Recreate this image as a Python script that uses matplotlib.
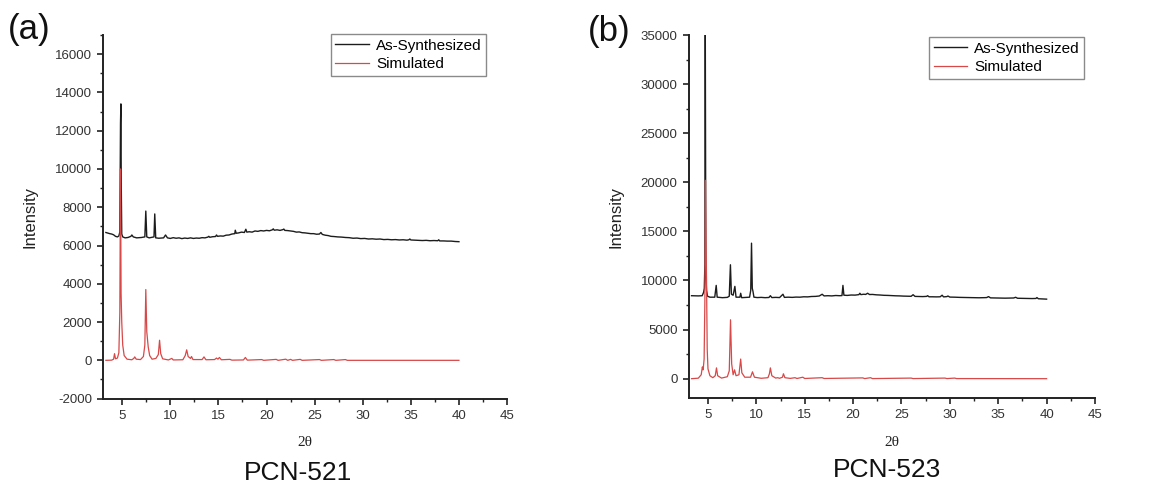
import matplotlib
matplotlib.use("Agg")
import matplotlib.pyplot as plt
from matplotlib.ticker import MultipleLocator

plt.rcParams['font.family'] = ['Liberation Sans', 'DejaVu Sans']
plt.rcParams['axes.unicode_minus'] = False

# ---------------- PCN-521 ----------------
a_syn_x = [3.3, 3.5, 3.7, 3.9, 4.1, 4.3, 4.5, 4.65, 4.75, 4.82, 4.86, 4.9, 4.95, 5.05,
           5.3, 5.6, 5.9, 6.0, 6.15, 6.5, 7.0, 7.35, 7.45, 7.55, 7.8, 8.1, 8.3, 8.38,
           8.48, 8.8, 9.3, 9.5, 9.7, 10.0, 10.3, 10.6, 10.9, 11.2, 11.5, 11.8, 12.1,
           12.4, 12.7, 13.0, 13.3, 13.6, 13.9, 14.0, 14.1, 14.4, 14.7, 14.8, 14.9, 15.2,
           15.5, 15.8, 16.1, 16.4, 16.7, 16.75, 16.85, 17.1, 17.4, 17.7, 17.85, 17.95,
           18.2, 18.5, 18.8, 19.1, 19.4, 19.7, 20.0, 20.3, 20.6, 20.7, 20.8, 21.1, 21.4,
           21.7, 21.8, 21.9, 22.2, 22.5, 22.8, 23.1, 23.4, 23.7, 24.0, 24.3, 24.6, 24.9,
           25.2, 25.5, 25.65, 25.8, 26.1, 26.4, 26.7, 27.0, 27.4, 27.8, 28.2, 28.6, 29.0,
           29.4, 29.8, 30.2, 30.6, 31.0, 31.4, 31.8, 32.2, 32.6, 33.0, 33.4, 33.8, 34.2,
           34.6, 34.8, 34.9, 35.0, 35.4, 35.8, 36.2, 36.6, 37.0, 37.4, 37.8, 37.9, 38.0,
           38.4, 38.8, 39.2, 39.6, 40.0]
a_syn_y = [6680, 6650, 6620, 6600, 6560, 6480, 6450, 6500, 6700, 12400, 13400, 9000, 6600, 6450,
           6400, 6420, 6480, 6550, 6450, 6400, 6420, 6450, 7800, 6450, 6400, 6430, 6450, 7650,
           6400, 6380, 6400, 6550, 6400, 6370, 6410, 6380, 6400, 6360, 6390, 6370, 6400,
           6370, 6390, 6380, 6410, 6400, 6440, 6480, 6430, 6460, 6470, 6550, 6480, 6500,
           6490, 6540, 6550, 6600, 6620, 6800, 6640, 6660, 6700, 6680, 6850, 6700,
           6720, 6700, 6760, 6740, 6780, 6760, 6790, 6770, 6820, 6870, 6800, 6820, 6790,
           6830, 6860, 6790, 6780, 6760, 6740, 6700, 6710, 6670, 6660, 6640, 6620, 6620,
           6590, 6600, 6680, 6580, 6540, 6520, 6480, 6470, 6450, 6440, 6420, 6410, 6380,
           6390, 6360, 6370, 6340, 6350, 6330, 6340, 6310, 6320, 6300, 6310, 6290, 6300,
           6280, 6300, 6340, 6290, 6280, 6270, 6260, 6270, 6250, 6260, 6250, 6300, 6240,
           6240, 6230, 6230, 6210, 6200]

a_sim_x = [3.3, 3.9, 4.1, 4.2, 4.3, 4.5, 4.65, 4.75, 4.82, 4.88, 4.95, 5.05, 5.2, 5.5,
           6.0, 6.2, 6.3, 6.45, 6.9, 7.2, 7.35, 7.45, 7.55, 7.7, 7.85, 8.1, 8.5, 8.75,
           8.88, 9.0, 9.2, 9.8, 10.15, 10.3, 11.3, 11.55, 11.7, 11.85, 12.1, 12.2, 12.35,
           13.3, 13.5, 13.7, 14.6, 14.8, 14.95, 15.1, 15.3, 16.2, 16.4, 17.6, 17.8, 18.0,
           19.5, 19.7, 21.0, 21.2, 22.0, 22.2, 22.5, 22.7, 23.5, 23.7, 25.5, 25.7, 27.0,
           27.2, 28.2, 28.4, 40.0]
a_sim_y = [0, 10, 60, 350, 80, 120, 400, 2500, 10000, 3500, 2000, 800, 250, 60,
           30, 100, 180, 60, 40, 200, 800, 3700, 1500, 700, 250, 60, 100, 300,
           1050, 350, 80, 20, 100, 20, 30, 250, 550, 200, 100, 200, 40,
           40, 180, 30, 40, 120, 60, 150, 30, 50, 10, 20, 150, 10,
           40, 0, 50, 0, 60, 0, 50, 0, 50, 0, 40, 0, 40,
           0, 40, 0, 0]

# ---------------- PCN-523 ----------------
b_syn_x = [3.3, 4.0, 4.4, 4.55, 4.62, 4.68, 4.72, 4.78, 4.85, 4.95, 5.2, 5.7, 5.85, 5.95,
           6.5, 7.0, 7.2, 7.32, 7.42, 7.6, 7.78, 7.9, 8.3, 8.38, 8.48, 9.3, 9.42, 9.5,
           9.58, 9.65, 9.75, 10.1, 10.5, 10.9, 11.3, 11.45, 11.6, 12.0, 12.4, 12.75, 12.9,
           13.3, 13.7, 14.1, 14.5, 14.9, 15.3, 15.7, 16.1, 16.5, 16.8, 17.0, 17.4, 17.8,
           18.2, 18.6, 18.85, 18.95, 19.05, 19.4, 19.8, 20.2, 20.6, 20.7, 20.8, 21.1, 21.3,
           21.5, 21.7, 22.0, 22.4, 22.8, 23.2, 23.6, 24.0, 24.4, 24.8, 25.2, 25.6, 26.0,
           26.2, 26.4, 26.8, 27.2, 27.6, 27.7, 27.85, 28.2, 28.6, 29.0, 29.2, 29.35, 29.7,
           29.8, 30.0, 30.5, 31.0, 31.5, 32.0, 32.5, 33.0, 33.5, 33.8, 34.0, 34.2, 34.7,
           35.2, 35.7, 36.2, 36.6, 36.8, 37.0, 37.5, 38.0, 38.5, 38.9, 39.0, 39.15, 39.6,
           40.0]
b_syn_y = [8450, 8430, 8450, 8800, 9200, 11700, 36000, 10500, 9000, 8400, 8300, 8300, 9500, 8300,
           8250, 8280, 8400, 11600, 8600, 8500, 9400, 8300, 8300, 8700, 8250, 8300, 9000, 13800,
           9200, 8900, 8300, 8260, 8280, 8250, 8270, 8450, 8260, 8280, 8260, 8600, 8280,
           8300, 8280, 8310, 8300, 8340, 8330, 8370, 8380, 8420, 8600, 8430, 8450, 8430,
           8470, 8450, 8460, 9500, 8500, 8480, 8520, 8510, 8560, 8700, 8560, 8600, 8580,
           8700, 8570, 8580, 8540, 8520, 8490, 8480, 8460, 8440, 8430, 8410, 8400, 8390,
           8550, 8380, 8370, 8360, 8380, 8450, 8340, 8340, 8330, 8340, 8500, 8330, 8360,
           8420, 8310, 8300, 8280, 8270, 8260, 8250, 8240, 8250, 8260, 8360, 8230, 8220,
           8210, 8200, 8210, 8220, 8290, 8190, 8180, 8170, 8160, 8170, 8260, 8140, 8120,
           8100]

b_sim_x = [3.3, 4.0, 4.3, 4.42, 4.5, 4.6, 4.68, 4.74, 4.8, 4.85, 4.92, 5.0, 5.2, 5.5,
           5.75, 5.88, 6.0, 6.4, 7.0, 7.2, 7.33, 7.45, 7.6, 7.75, 7.9, 8.2, 8.38, 8.5,
           8.8, 9.4, 9.6, 9.8, 10.5, 11.2, 11.35, 11.45, 11.6, 12.0, 12.2, 12.4, 12.7,
           12.8, 12.95, 13.5, 14.0, 14.2, 14.8, 15.0, 16.8, 17.0, 21.0, 21.2, 21.8, 22.0,
           26.0, 26.2, 29.5, 29.7, 30.5, 30.7, 40.0]
b_sim_y = [0, 50, 400, 1200, 900, 2000, 8000, 20200, 13500, 10000, 3000, 1000, 300, 100,
           300, 1100, 300, 60, 200, 800, 6000, 1500, 400, 900, 300, 400, 2000, 600,
           150, 150, 700, 150, 40, 100, 500, 1100, 300, 60, 100, 40, 150,
           500, 100, 30, 100, 20, 150, 20, 100, 20, 80, 10, 100, 10,
           60, 10, 60, 10, 60, 10, 0]

series_labels = ['As-Synthesized', 'Simulated']
panel_letters = ['(a)', '(b)']
panel_names = ['PCN-521', 'PCN-523']
x_label = '2θ'
y_label = 'Intensity'

BLACK = '#1c1c1c'
RED = '#d84848'

fig = plt.figure(figsize=(11.56, 4.87), dpi=100)

panels = [
    dict(rect=[0.0891, 0.1815, 0.3495, 0.7466], syn=(a_syn_x, a_syn_y), sim=(a_sim_x, a_sim_y),
         ylim=(-2000, 17000), ymaj=2000, ymin=1000, yticks_from=-2000, leg=(0.564, 1.003),
         letter_xy=(8, 29), name_xy=(298, 473), xlab_xy=(305, 443)),
    dict(rect=[0.5957, 0.1821, 0.3515, 0.7460], syn=(b_syn_x, b_syn_y), sim=(b_sim_x, b_sim_y),
         ylim=(-2000, 35000), ymaj=5000, ymin=2500, yticks_from=0, leg=(0.5915, 0.9945),
         letter_xy=(588, 31), name_xy=(887, 470), xlab_xy=(892, 443)),
]

W, H = 1156, 487
for i, p in enumerate(panels):
    ax = fig.add_axes(p['rect'])
    ax.plot(*p['syn'], color=BLACK, lw=1.0, label=series_labels[0])
    ax.plot(*p['sim'], color=RED, lw=0.9, label=series_labels[1])
    ax.set_xlim(3, 45)
    ax.set_ylim(*p['ylim'])
    for s in ['top', 'right']:
        ax.spines[s].set_visible(False)
    for s in ['left', 'bottom']:
        ax.spines[s].set_linewidth(1.4)
        ax.spines[s].set_color('#222222')
    ax.xaxis.set_major_locator(MultipleLocator(5))
    ax.xaxis.set_minor_locator(MultipleLocator(2.5))
    yt = [v for v in range(p['yticks_from'], p['ylim'][1] + 1, p['ymaj'])]
    ax.set_yticks(yt)
    ax.yaxis.set_minor_locator(MultipleLocator(p['ymin']))
    ax.tick_params(which='major', direction='out', length=4.5, width=1.2, pad=3.5,
                   labelsize=9.5, colors='#222222', labelcolor='#333333')
    ax.tick_params(which='minor', direction='out', length=2.5, width=1.0, colors='#222222')
    leg = ax.legend(loc='upper left', bbox_to_anchor=p['leg'], borderaxespad=0,
                    fancybox=False, framealpha=1, edgecolor='#8a8a8a', fontsize=11,
                    handlelength=2.2, handletextpad=0.45, labelspacing=0.3,
                    borderpad=0.3)
    leg.get_frame().set_linewidth(1.0)

    lx, ly = p['letter_xy']
    fig.text(lx / W, 1 - ly / H, panel_letters[i], fontsize=25, ha='left', va='center',
             color='#111111')
    nx, ny = p['name_xy']
    fig.text(nx / W, 1 - ny / H, panel_names[i], fontsize=19, ha='center', va='center',
             color='#111111')
    xx, xy = p['xlab_xy']
    fig.text(xx / W, 1 - xy / H, x_label, fontsize=11, ha='center', va='center',
             family=['Liberation Serif', 'DejaVu Serif'], color='#222222')
    bbox = ax.get_position()
    fig.text(bbox.x0 - 73 / W, (bbox.y0 + bbox.y1) / 2, y_label, fontsize=12,
             rotation=90, ha='center', va='center', color='#222222')

fig.savefig('out.png', dpi=100)
